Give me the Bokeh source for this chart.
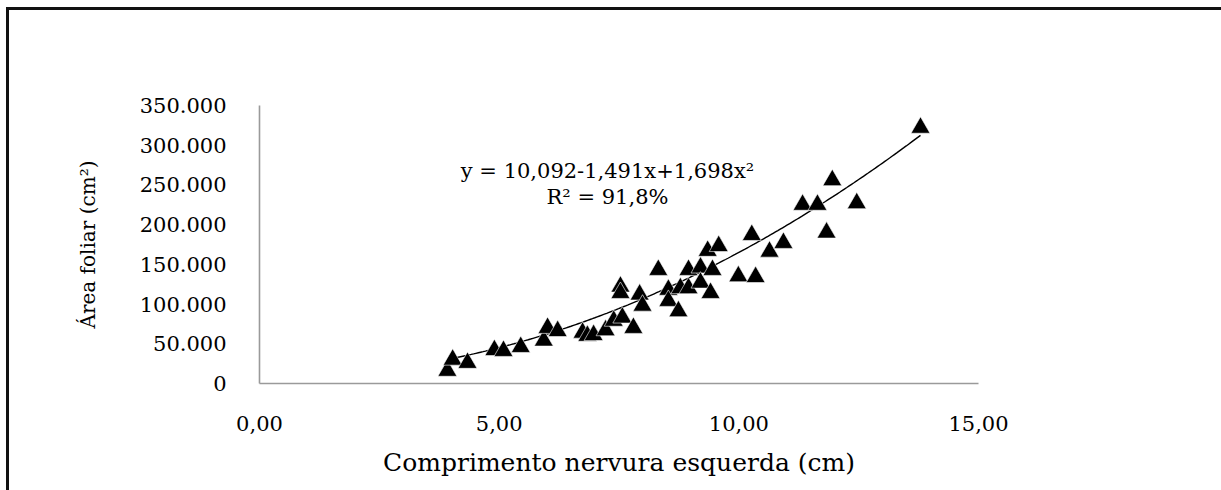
from bokeh.plotting import figure
from bokeh.models import CustomJSTickFormatter, FixedTicker, Label, Range1d
from bokeh.embed import file_html
from bokeh.resources import INLINE
import numpy as np

# ---- data ----
x_vals = [3.92, 4.03, 4.34, 4.90, 5.09, 5.45, 5.93, 6.01, 6.22, 6.74, 6.84, 6.97,
          7.22, 7.39, 7.53, 7.53, 7.57, 7.80, 7.93, 7.99, 8.32, 8.53, 8.53, 8.74,
          8.78, 8.95, 8.95, 9.20, 9.20, 9.35, 9.41, 9.45, 9.58, 9.99, 10.27, 10.35,
          10.64, 10.93, 11.33, 11.64, 11.83, 11.95, 12.46, 13.79]
y_vals = [16, 30, 26, 42, 41, 46, 54, 70, 66, 64, 60, 61,
          67, 79, 122, 114, 83, 70, 112, 98, 143, 118, 104, 91,
          120, 143, 120, 146, 127, 167, 114, 143, 173, 135, 187, 134,
          166, 177, 225, 225, 190, 256, 227, 322]

trend_coef = [10.092, -1.491, 1.698]   # a + b*x + c*x^2
eq_text = "y = 10,092-1,491x+1,698x\u00b2"
r2_text = "R\u00b2 = 91,8%"
x_ticks = [0, 5, 10, 15]
y_ticks = [0, 50, 100, 150, 200, 250, 300, 350]
x_title = "Comprimento nervura esquerda (cm)"
y_title = "\u00c1rea foliar (cm\u00b2)"

FONT = "DejaVu Serif"
W, H = 1212, 480

p = figure(width=W, height=H, output_backend="svg", toolbar_location=None,
           x_range=Range1d(0, 15), y_range=Range1d(0, 350),
           min_border_left=250, min_border_right=243,
           min_border_top=95, min_border_bottom=107,
           background_fill_color="white", border_fill_color="white",
           styles={"margin-left": "9px", "margin-top": "10px",
                   "box-shadow": "-3px 0 0 0 #111111, 0 -3px 0 0 #111111, -3px -3px 0 0 #111111"})
p.outline_line_color = None
p.grid.visible = False

# trendline from the displayed equation
tx = np.linspace(min(x_vals), max(x_vals), 200)
ty = trend_coef[0] + trend_coef[1] * tx + trend_coef[2] * tx ** 2
p.line(tx, ty, line_color="black", line_width=1.4)

p.scatter(x_vals, y_vals, marker="triangle", size=19, fill_color="black",
          line_color="white", line_width=0.6)

for ax in (p.xaxis[0], p.yaxis[0]):
    ax.axis_line_color = "#9a9a9a"
    ax.axis_line_width = 1.6
    ax.major_tick_line_color = None
    ax.minor_tick_line_color = None
    ax.major_label_text_font = FONT
    ax.major_label_text_color = "black"
    ax.major_label_text_font_size = "21px"
    ax.axis_label_text_font = FONT
    ax.axis_label_text_font_style = "normal"
    ax.axis_label_text_color = "black"

p.xaxis.ticker = FixedTicker(ticks=x_ticks)
p.yaxis.ticker = FixedTicker(ticks=y_ticks)
p.xaxis.formatter = CustomJSTickFormatter(code='return tick.toFixed(2).replace(".", ",");')
p.yaxis.formatter = CustomJSTickFormatter(code='return tick == 0 ? "0" : tick.toFixed(0) + ".000";')

p.xaxis.axis_label = x_title
p.xaxis.axis_label_text_font_size = "25px"
p.xaxis.major_label_standoff = 26
p.xaxis.axis_label_standoff = 14

p.yaxis.axis_label = y_title
p.yaxis.axis_label_text_font_size = "20px"
p.yaxis.major_label_standoff = 27
p.yaxis.axis_label_standoff = 37

p.add_layout(Label(x=7.26, y=267, text=eq_text, text_align="center", text_baseline="middle",
                   text_font=FONT, text_font_size="21px", text_color="black"))
p.add_layout(Label(x=7.26, y=235, text=r2_text, text_align="center", text_baseline="middle",
                   text_font=FONT, text_font_size="21px", text_color="black"))

open("out.html", "w").write(file_html(p, INLINE))
